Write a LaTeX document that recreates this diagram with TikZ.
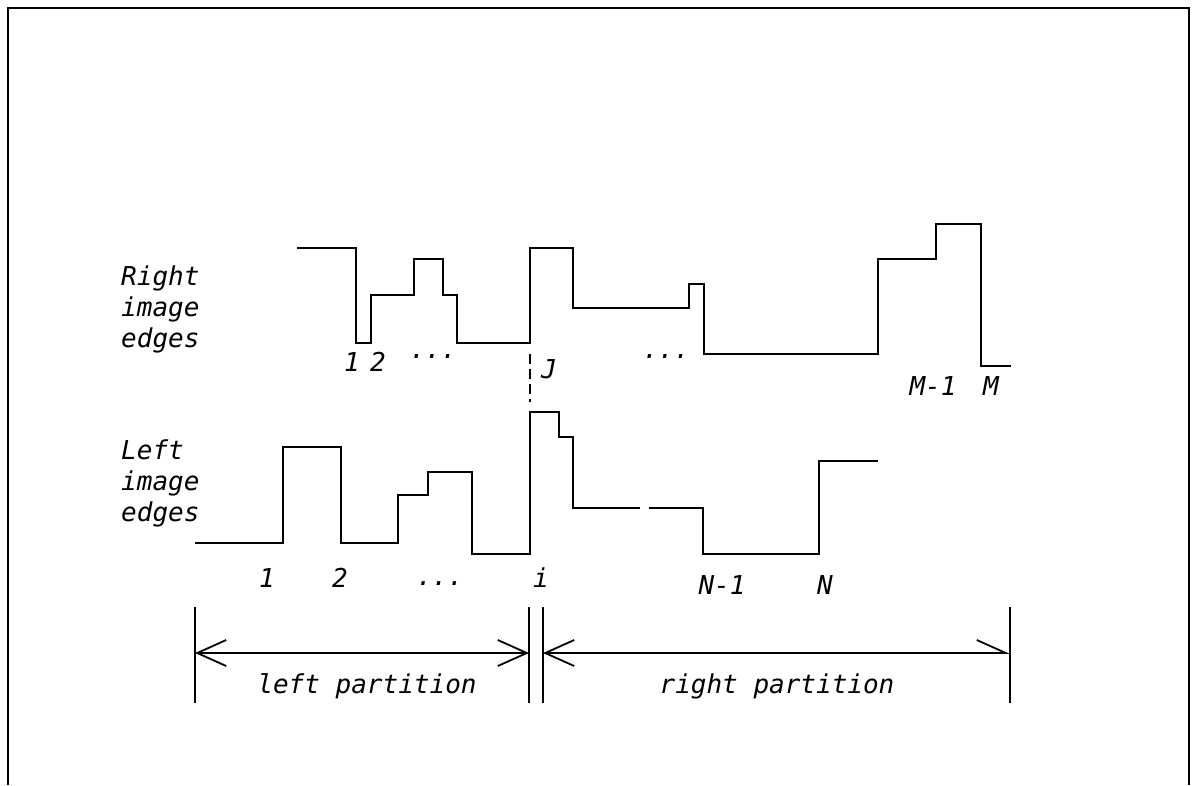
\documentclass[tikz,border=0pt]{standalone}
\usepackage{fontspec}
\setmonofont{DejaVu Sans Mono}
\usetikzlibrary{arrows.meta}

\begin{document}
\begin{tikzpicture}[
    x=1pt, y=-1pt,
    font=\ttfamily\itshape\fontsize{26}{31}\selectfont,
    frame/.style={line width=2.8pt},
    edgeline/.style={line width=2.8pt, line join=miter},
    bar/.style={line width=1.8pt},
    cut/.style={line width=2pt, dash pattern=on 10pt off 5pt},
    span/.style={line width=1.8pt,
                 {Straight Barb[length=29pt,width=26pt]}-{Straight Barb[length=29pt,width=26pt]}},
    halfspan/.style={line width=1.8pt,
                 {Straight Barb[length=29pt,width=26pt]}-{Straight Barb[length=29pt,width=26pt,left]}},
    lbl/.style={inner sep=0pt},
    side/.style={inner sep=0pt, anchor=west, align=left},
  ]
  \useasboundingbox (0,0) rectangle (1194,785);

  % ========================== MARCO ==========================
  \draw[frame] (8,785) -- (8,8) -- (1189,8) -- (1189,785);

  % ===================== BORDES DERECHOS =====================
  \draw[edgeline] (297,248) -| (356,343) -| (371,295) -| (414,259)
    -| (443,295) -| (457,343) -| (530,248) -| (573,308) -| (689,284)
    -| (704,354) -| (878,259) -| (936,224) -| (981,366) -- (1011,366);
  \node[side] (rtxt) at (121,309) {Right\\image\\edges};
  \node[lbl] (r1) at (352,362) {1};
  \node[lbl] (r2) at (378,362) {2};
  \node[lbl] (rdots1) at (432,360) {···};
  \node[lbl] (rj) at (549,369) {J};
  \node[lbl] (rdots2) at (665,360) {···};
  \node[lbl] (rm1) at (933,386) {M-1};
  \node[lbl] (rm) at (991,386) {M};

  % corte en J
  \draw[cut] (530,354) -- (530,402);

  % ==================== BORDES IZQUIERDOS ====================
  \draw[edgeline] (195,543) -| (283,447) -| (341,543) -| (398,495)
    -| (428,472) -| (472,554) -| (530,412) -| (559,437) -| (573,508)
    -- (640,508);
  \draw[edgeline] (649,508) -| (703,554) -| (819,461) -- (878,461);
  \node[side] (ltxt) at (121,483) {Left\\image\\edges};
  \node[lbl] (l1) at (267,578) {1};
  \node[lbl] (l2) at (340,578) {2};
  \node[lbl] (ldots) at (440,584) {...};
  \node[lbl] (li) at (541,578) {i};
  \node[lbl] (ln1) at (722,585) {N-1};
  \node[lbl] (ln) at (825,585) {N};

  % ======================= PARTICIONES =======================
  \coordinate (bl) at (195,653);
  \coordinate (bm1) at (529,653);
  \coordinate (bm2) at (543,653);
  \coordinate (br) at (1010,653);
  \foreach \b in {bl,bm1,bm2,br}
    \draw[bar] (\b |- 0,607) -- (\b |- 0,703);
  \draw[span] (bl) -- (bm1);
  \draw[halfspan] (bm2) -- (br);
  \node[lbl, anchor=base] (lpart) at (367,693) {left partition};
  \node[lbl, anchor=base] (rpart) at (777,693) {right partition};
\end{tikzpicture}
\end{document}
